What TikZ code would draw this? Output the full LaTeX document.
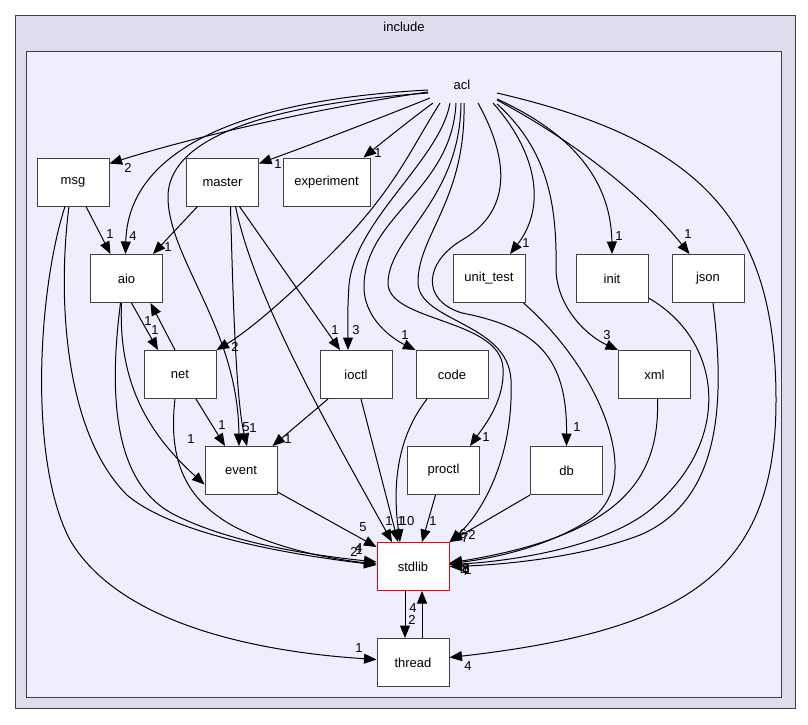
\documentclass[tikz,border=0pt]{standalone}
\usepackage{fontspec}
\setmainfont{Liberation Sans}
\usetikzlibrary{arrows.meta}
\definecolor{outerfill}{HTML}{DDDDEE}
\definecolor{innerfill}{HTML}{EEEEFF}
\definecolor{bordergray}{HTML}{404040}
\newcommand\dgfont{\fontsize{13}{15}\selectfont}
\begin{document}
\begin{tikzpicture}[x=1pt,y=-1pt,
  dirbox/.style={draw=bordergray, fill=white, line width=1pt, minimum width=72pt, minimum height=48pt, inner sep=0pt, font=\dgfont},
  arr/.style={draw=black, line width=1pt, -{Triangle[length=12.5pt,width=10pt]}},
  lbl/.style={font=\dgfont, inner sep=0pt}]
\useasboundingbox (0,0) rectangle (808,724);
\fill[white] (0,0) rectangle (808,724);
\draw[fill=outerfill, draw=bordergray, line width=1pt] (15,15) rectangle (795,708);
\node[lbl] (inc) at (404,27) {include};
\draw[fill=innerfill, draw=bordergray, line width=1pt] (26,51) rectangle (781,697);

% nodes
\node[lbl] (acl) at (462,85) {acl};
\node[dirbox] (msg) at (73,182) {msg};
\node[dirbox] (master) at (222.5,182) {master};
\node[dirbox, minimum width=87pt] (experiment) at (326.5,182) {experiment};
\node[dirbox] (aio) at (126.5,278.5) {aio};
\node[dirbox] (unittest) at (489,278.5) {unit\_test};
\node[dirbox] (init) at (612,278.5) {init};
\node[dirbox] (json) at (708,278.5) {json};
\node[dirbox] (net) at (180,374.5) {net};
\node[dirbox] (ioctl) at (356,374.5) {ioctl};
\node[dirbox] (code) at (452,374.5) {code};
\node[dirbox] (xml) at (654.5,374.5) {xml};
\node[dirbox] (event) at (241,470.5) {event};
\node[dirbox] (proctl) at (443.5,470.5) {proctl};
\node[dirbox] (db) at (566.5,470.5) {db};
\node[dirbox, draw=red] (stdlib) at (413,566.5) {stdlib};
\node[dirbox] (thread) at (413,662.5) {thread};

% edges from acl
\draw[arr] ([shift={(-34,7)}]acl.center) .. controls (330,106) and (200,135) .. ([yshift=-6pt]msg.north east);
\draw[arr] ([shift={(-34,5)}]acl.center) .. controls (240,100) and (128,150) .. ([xshift=-1pt]aio.north);
\draw[arr] ([shift={(-34,8)}]acl.center) .. controls (260,105) and (165,140) .. (168,200) .. controls (171,262) and (238,330) .. ([xshift=-2pt]event.north);
\draw[arr] ([shift={(-32,13)}]acl.center) .. controls (370,122) and (310,145) .. ([yshift=-6pt]master.north east);
\draw[arr] ([shift={(-29,18)}]acl.center) .. controls (410,120) and (385,140) .. ([xshift=-7pt]experiment.north east);
\draw[arr] ([shift={(-22,18)}]acl.center) .. controls (410,150) and (395,190) .. (330,255) .. controls (290,295) and (250,330) .. (net.north east);
\draw[arr] ([shift={(-12,18)}]acl.center) .. controls (440,160) and (355,220) .. (349,285) .. controls (347,315) and (348,335) .. ([xshift=-8pt]ioctl.north);
\draw[arr] ([shift={(-6,18)}]acl.center) .. controls (452,190) and (366,215) .. (364,285) .. controls (363,320) and (395,340) .. (code.north west);
\draw[arr] ([shift={(-1,18)}]acl.center) .. controls (460,200) and (390,235) .. (388,282) .. controls (386,322) and (500,318) .. (503,368) .. controls (505,400) and (485,425) .. ([xshift=-10pt]proctl.north east);
\draw[arr] ([shift={(2,18)}]acl.center) .. controls (466,200) and (418,235) .. (418,282) .. controls (418,322) and (508,322) .. (511,380) .. controls (514,460) and (480,515) .. (stdlib.north east);
\draw[arr] ([shift={(16,18)}]acl.center) .. controls (515,170) and (505,215) .. (462,240) .. controls (425,262) and (420,300) .. (462,313) .. controls (540,328) and (567,360) .. (db.north);
\draw[arr] ([shift={(31,18)}]acl.center) .. controls (535,150) and (548,205) .. ([xshift=21pt]unittest.north);
\draw[arr] ([shift={(35,19)}]acl.center) .. controls (548,150) and (557,205) .. (556,268) .. controls (556,305) and (585,335) .. (xml.north west);
\draw[arr] ([shift={(35,14)}]acl.center) .. controls (565,130) and (611,175) .. (init.north);
\draw[arr] ([shift={(35,15)}]acl.center) .. controls (590,150) and (650,205) .. ([xshift=18pt]json.north west);
\draw[arr] ([shift={(35,8)}]acl.center) .. controls (700,140) and (776,220) .. (776,400) .. controls (776,570) and (690,630) .. ([yshift=5pt]thread.east);

% msg
\draw[arr] ([xshift=13pt]msg.south) -- ([xshift=-16pt]aio.north);
\draw[arr] ([xshift=-4pt]msg.south) .. controls (58,290) and (62,430) .. (127,495) .. controls (180,540) and (320,558) .. ([yshift=1.5pt]stdlib.west);
\draw[arr] ([xshift=-8pt]msg.south) .. controls (38,290) and (28,460) .. (70,540) .. controls (120,625) and (260,652) .. ([yshift=3pt]thread.west);

% master
\draw[arr] ([xshift=-25pt]master.south) -- ([xshift=-10pt]aio.north east);
\draw[arr] ([xshift=8pt]master.south) .. controls (233,300) and (236,400) .. ([xshift=6pt]event.north);
\draw[arr] ([xshift=13pt]master.south) .. controls (255,300) and (330,430) .. ([xshift=-21pt]stdlib.north);
\draw[arr] ([xshift=17pt]master.south) -- ([xshift=-16pt]ioctl.north);

% aio / net
\draw[arr] ([xshift=5pt]aio.south) -- ([xshift=-22pt]net.north);
\draw[arr] ([xshift=-5pt]net.north) -- ([xshift=24pt]aio.south);
\draw[arr] ([xshift=-5pt]aio.south) .. controls (118,385) and (150,435) .. ([yshift=-14pt]event.west);
\draw[arr] ([xshift=-6pt]aio.south) .. controls (108,400) and (115,485) .. (175,515) .. controls (235,545) and (320,556) .. ([yshift=4.5pt]stdlib.west);
\draw[arr] ([xshift=16pt]net.south) -- ([xshift=-16pt]event.north);
\draw[arr] ([xshift=-5pt]net.south) .. controls (168,460) and (185,500) .. (235,527) .. controls (285,552) and (340,560) .. ([yshift=2.5pt]stdlib.west);

% ioctl, code, proctl, db, event
\draw[arr] ([xshift=-28pt]ioctl.south) -- ([xshift=-5pt]event.north east);
\draw[arr] ([xshift=5pt]ioctl.south) -- ([xshift=-15pt]stdlib.north);
\draw[arr] ([xshift=-25pt]code.south) .. controls (395,440) and (393,490) .. ([xshift=-13pt]stdlib.north);
\draw[arr] ([xshift=-8pt]proctl.south) -- ([xshift=9pt]stdlib.north);
\draw[arr] (db.south west) -- (stdlib.north east);
\draw[arr] ([yshift=3pt]event.south east) -- ([yshift=-5pt]stdlib.north west);

% right side to stdlib
\draw[arr] ([xshift=-2pt]unittest.south east) .. controls (600,370) and (645,480) .. (592,518) .. controls (545,550) and (480,560) .. ([yshift=3pt]stdlib.east);
\draw[arr] ([yshift=5pt]init.south east) .. controls (722,340) and (735,440) .. (650,510) .. controls (600,550) and (500,562) .. ([yshift=2pt]stdlib.east);
\draw[arr] ([xshift=5pt]json.south) .. controls (725,400) and (722,500) .. (640,535) .. controls (580,558) and (500,565) .. (stdlib.east);
\draw[arr] ([xshift=3pt]xml.south) .. controls (660,480) and (620,535) .. ([yshift=3.5pt]stdlib.east);

% stdlib <-> thread
\draw[arr] ([xshift=-8pt]stdlib.south) -- ([xshift=-8pt]thread.north);
\draw[arr] ([xshift=9pt]thread.north) -- ([xshift=9pt]stdlib.south);

% labels
\node[lbl] (l1) at (128,168) {2};
\node[lbl] (l2) at (278,164) {1};
\node[lbl] (l3) at (378,153) {1};
\node[lbl] (l4) at (110,234) {1};
\node[lbl] (l5) at (133,236) {4};
\node[lbl] (l6) at (168,247) {1};
\node[lbl] (l7) at (148,321) {1};
\node[lbl] (l8) at (155,330) {1};
\node[lbl] (l9) at (235,347) {2};
\node[lbl] (l10) at (335,330) {1};
\node[lbl] (l11) at (356,330) {3};
\node[lbl] (l12) at (405,335) {1};
\node[lbl] (l13) at (526,243) {1};
\node[lbl] (l14) at (619,236) {1};
\node[lbl] (l15) at (688,234) {1};
\node[lbl] (l16) at (607,335) {3};
\node[lbl] (l17) at (577,427) {1};
\node[lbl] (l18) at (486,437) {1};
\node[lbl] (l19) at (222,425) {1};
\node[lbl] (l20) at (246,427) {5};
\node[lbl] (l21) at (253,428) {1};
\node[lbl] (l22) at (191,439) {1};
\node[lbl] (l23) at (288,439) {1};
\node[lbl] (l24) at (363,527) {5};
\node[lbl] (l25) at (389,521) {1};
\node[lbl] (l26) at (401,521) {1};
\node[lbl] (l27) at (407,521) {10};
\node[lbl] (l28) at (433,521) {1};
\node[lbl] (l29) at (354,552) {2};
\node[lbl] (l30) at (359,548) {4};
\node[lbl] (l31) at (359,550) {1};
\node[lbl] (l32) at (463,534) {6};
\node[lbl] (l33) at (465,538) {7};
\node[lbl] (l34) at (472,535) {2};
\node[lbl] (l35) at (464,571) {4};
\node[lbl] (l36) at (466,569) {8};
\node[lbl] (l37) at (468,570) {1};
\node[lbl] (l38) at (466,568) {3};
\node[lbl] (l39) at (413,608) {4};
\node[lbl] (l40) at (412,620) {2};
\node[lbl] (l41) at (359,648) {1};
\node[lbl] (l42) at (468,666) {4};
\end{tikzpicture}
\end{document}
